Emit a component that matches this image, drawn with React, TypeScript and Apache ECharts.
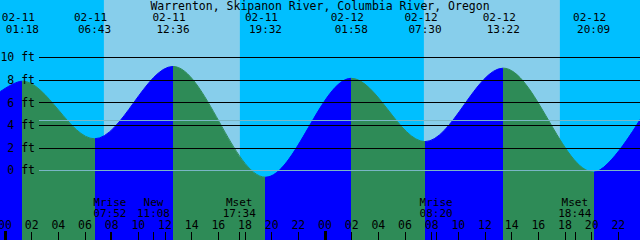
import React, { useEffect, useRef } from "react";
import * as echarts from "echarts";

// ---------- data ----------
const TITLE = "Warrenton, Skipanon River, Columbia River, Oregon";

const tideTimes = [
  "02-11 01:18", "02-11 06:43", "02-11 12:36", "02-11 19:32",
  "02-12 01:58", "02-12 07:30", "02-12 13:22", "02-12 20:09",
];
const tideKinds = ["H", "L", "H", "L", "H", "L", "H", "L"];
const tideHeightsFt = [7.9, 2.8, 9.2, -0.6, 8.15, 2.55, 9.05, -0.15];
// heights visible at the left and right borders of the plot
const edgeHeightsFt = [6.96, 4.5];

const sunriseTimes = ["02-11 07:25", "02-12 07:25"];
const sunsetTimes = ["02-11 17:37", "02-12 17:37"];

const moonLabels = ["Mrise", "New", "Mset", "Mrise", "Mset"];
const moonTimes = ["02-11 07:52", "02-11 11:08", "02-11 17:34", "02-12 08:20", "02-12 18:44"];

const depthLevels = [0, 2, 4, 6, 8, 10];
const meanLevelFt = 4.42;
const hourTicks = [0, 2, 4, 6, 8, 10, 12, 14, 16, 18, 20, 22, 24, 26, 28, 30, 32, 34, 36, 38, 40, 42, 44, 46, 48];
const dayStartTicks = [0, 24];

// ---------- layout constants ----------
const VIEW_START_H = -0.375;
const VIEW_END_H = 47.625;
const Y_MIN = -6.16;
const Y_MAX = 15.08;
const DATE_ROW = 13.57;
const TIME_ROW = 12.5;
const MOON_ROW = -3.31;
const LINE_START_H = 2.55;

const NIGHT = "#00bfff";
const DAY = "#87ceeb";
const RISE = "#0000ff";
const FALL = "#2e8b57";
const MSL = "#7ab6c6";
const FONT = "DejaVu Sans Mono";
const FS = 11;
const LH = 11;

function toHours(s: string): number {
  const [md, hm] = s.split(" ");
  const day = parseInt(md.split("-")[1], 10) - 11;
  const [h, m] = hm.split(":").map((v) => parseInt(v, 10));
  return day * 24 + h + m / 60;
}

export default function App() {
  const ref = useRef<HTMLDivElement>(null);

  useEffect(() => {
    document.body.style.margin = "0";
    if (!ref.current) return;
    const chart = echarts.init(ref.current, undefined, { renderer: "svg" });

    const tideHours = tideTimes.map(toHours);
    const curve: number[][] = [[VIEW_START_H, edgeHeightsFt[0]]];
    tideHours.forEach((h, i) => curve.push([h, tideHeightsFt[i]]));
    curve.push([VIEW_END_H, edgeHeightsFt[1]]);

    const pieces: any[] = [];
    let prev: number | null = null;
    let color = tideKinds[0] === "H" ? RISE : FALL;
    tideHours.forEach((h, i) => {
      pieces.push(prev === null ? { lt: h, color } : { gte: prev, lt: h, color });
      prev = h;
      color = tideKinds[i] === "H" ? FALL : RISE;
    });
    pieces.push({ gte: prev, color });

    const dayAreas = sunriseTimes.map((s, i) => [
      { xAxis: toHours(s) },
      { xAxis: toHours(sunsetTimes[i]) },
    ]);

    const blackLines = depthLevels
      .filter((d) => d > 0)
      .map((d) => [{ coord: [LINE_START_H, d] }, { coord: [VIEW_END_H, d] }]);

    const labelStyle = { fontFamily: FONT, fontSize: FS, color: "#000", lineHeight: LH };

    const overlayLines: any[] = [];
    depthLevels.forEach((d) => {
      overlayLines.push([
        {
          coord: [LINE_START_H, d],
          lineStyle: { color: d === 0 ? MSL : "rgba(0,0,0,0)", width: 1, type: "solid" },
          label: { show: true, position: "start", distance: 4, formatter: `${d} ft`, ...labelStyle, fontSize: 11.5 },
        },
        { coord: [VIEW_END_H, d] },
      ]);
    });
    overlayLines.push([
      {
        coord: [LINE_START_H, meanLevelFt],
        lineStyle: { color: MSL, width: 1, type: "solid" },
        label: { show: false },
      },
      { coord: [VIEW_END_H, meanLevelFt] },
    ]);

    const points: any[] = [];
    tideTimes.forEach((t, i) => {
      const [date, time] = t.split(" ");
      const h = tideHours[i];
      points.push({ coord: [h, DATE_ROW], label: { formatter: date, offset: [-4, 0] } });
      points.push({ coord: [h, TIME_ROW], label: { formatter: time } });
    });
    moonTimes.forEach((t, i) => {
      points.push({
        coord: [toHours(t), MOON_ROW],
        label: { formatter: `${moonLabels[i]}\n${t.split(" ")[1]}` },
      });
    });

    const pad = (v: number) => String(((v % 24) + 24) % 24).padStart(2, "0");

    chart.setOption({
      animation: false,
      title: {
        text: TITLE,
        left: "center",
        top: 0,
        padding: 0,
        textStyle: { fontFamily: FONT, fontSize: 11.5, fontWeight: "normal", color: "#000", lineHeight: LH },
      },
      grid: {
        left: 0, right: 0, top: 0, bottom: 0,
        outerBoundsMode: "none",
        containLabel: false,
        show: true, backgroundColor: NIGHT, borderWidth: 0,
      },
      xAxis: [
        {
          type: "value",
          min: VIEW_START_H,
          max: VIEW_END_H,
          position: "bottom",
          z: 10,
          axisLine: { show: false, onZero: false },
          splitLine: { show: false },
          axisTick: {
            show: true,
            inside: true,
            length: 8,
            lineStyle: { color: "#000", width: 1 },
            customValues: hourTicks.concat(moonTimes.map(toHours)),
          },
          axisLabel: {
            show: true,
            inside: true,
            margin: 15,
            verticalAlign: "middle",
            customValues: hourTicks,
            formatter: (v: number) => pad(Math.round(v)),
            ...labelStyle,
            fontSize: 11.5,
          },
        },
        {
          type: "value",
          min: VIEW_START_H,
          max: VIEW_END_H,
          position: "bottom",
          z: 11,
          axisLine: { show: false, onZero: false },
          splitLine: { show: false },
          axisTick: {
            show: true,
            inside: true,
            length: 9,
            lineStyle: { color: "#000", width: 3 },
            customValues: dayStartTicks,
          },
          axisLabel: { show: false },
        },
      ],
      yAxis: { type: "value", min: Y_MIN, max: Y_MAX, show: false, axisLine: { onZero: false } },
      visualMap: {
        type: "piecewise",
        show: false,
        dimension: 0,
        seriesIndex: 1,
        pieces,
      },
      series: [
        {
          type: "line",
          data: [],
          z: 1,
          silent: true,
          markArea: {
            silent: true,
            itemStyle: { color: DAY, opacity: 1 },
            data: dayAreas,
          },
          markLine: {
            silent: true,
            symbol: ["none", "none"],
            label: { show: false },
            lineStyle: { color: "#000", width: 1, type: "solid" },
            emphasis: { disabled: true },
            data: blackLines,
          },
        },
        {
          type: "line",
          data: curve,
          z: 2,
          silent: true,
          smooth: 1 / 3,
          smoothMonotone: "x",
          showSymbol: false,
          symbol: "none",
          lineStyle: { width: 1 },
          areaStyle: { opacity: 1, origin: "start" },
        },
        {
          type: "line",
          data: [],
          z: 3,
          silent: true,
          markLine: {
            silent: true,
            symbol: ["none", "none"],
            emphasis: { disabled: true },
            data: overlayLines,
          },
          markPoint: {
            silent: true,
            symbol: "circle",
            symbolSize: 0,
            itemStyle: { color: "rgba(0,0,0,0)" },
            label: { show: true, position: "inside", ...labelStyle },
            data: points,
          },
        },
      ],
    });

    return () => chart.dispose();
  }, []);

  return (
    <div
      ref={ref}
      style={{ position: "absolute", left: 0, top: 0, width: 640, height: 240 }}
    />
  );
}
